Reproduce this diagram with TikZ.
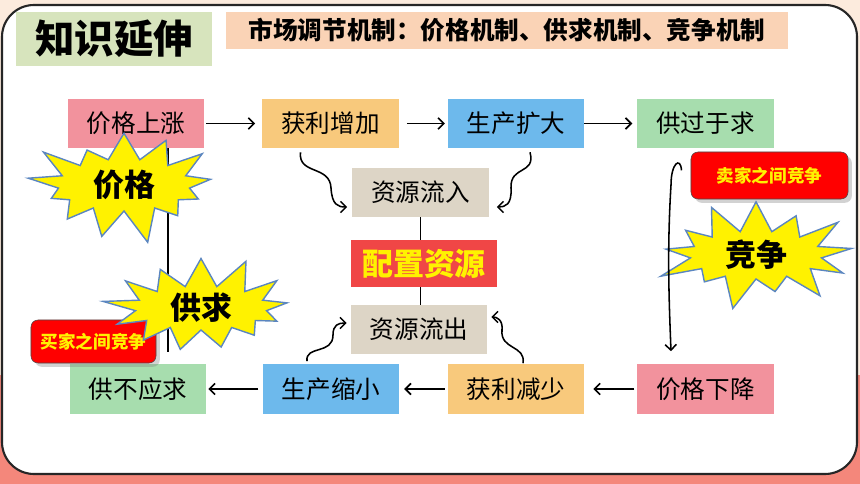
\documentclass[tikz,border=0pt]{standalone}
\usepackage{fontspec}
\setmainfont{Noto Sans CJK SC}
\usetikzlibrary{shapes.symbols,arrows.meta,shadows,calc}

\definecolor{bgtop}{HTML}{FCEBDD}
\definecolor{bgbot}{HTML}{F4877B}
\definecolor{frame}{HTML}{262626}
\definecolor{tgreen}{HTML}{D7E4BD}
\definecolor{tpeach}{HTML}{FAD3B6}
\definecolor{cpink}{HTML}{F2929D}
\definecolor{corange}{HTML}{F8C97C}
\definecolor{cblue}{HTML}{6DB9EC}
\definecolor{cgreen}{HTML}{A7DDAE}
\definecolor{ctan}{HTML}{DDD5C6}
\definecolor{cred}{HTML}{F04646}
\definecolor{sblue}{HTML}{5B86C0}

\tikzset{
  box/.style={minimum width=3.4cm,minimum height=1.225cm,inner sep=0pt,font=\fontsize{17.5}{20}\selectfont},
  arr/.style={line width=1.2pt,-{Straight Barb[length=4pt,width=8pt]}},
  sq/.style={line width=1.1pt,-{Straight Barb[length=4pt,width=8pt]}},
  star/.style={starburst,fill=yellow,draw=sblue,line width=1pt,starburst points=13,
    starburst point height=0.9cm,inner sep=0pt,font=\fontsize{22}{24}\selectfont\bfseries},
  rbox/.style={rounded corners=5pt,fill=red,draw=black!70,drop shadow={opacity=0.35},
    text=yellow,inner sep=0pt,font=\fontsize{12.5}{14}\selectfont\bfseries}
}

\begin{document}
\begin{tikzpicture}[x=0.025cm,y=-0.025cm]
\useasboundingbox (0,0) rectangle (860,484);
\fill[bgtop] (0,0) rectangle (860,375);
\fill[bgbot] (0,375) rectangle (860,484);
\draw[line width=1.5pt,draw=frame,fill=white,rounded corners=0.8cm] (2,5) rectangle (857,474);

% titles
\node[fill=tgreen,minimum width=4.9cm,minimum height=1.35cm,font=\fontsize{28}{30}\selectfont\bfseries] (t) at (114,39) {知识延伸};
\node[fill=tpeach,minimum width=14.05cm,minimum height=0.925cm,font=\fontsize{17.5}{20}\selectfont\bfseries] (s) at (507,30.5) {市场调节机制：价格机制、供求机制、竞争机制};

% boxes
\node[box,fill=cpink] (a) at (136,123.5) {价格上涨};
\node[box,fill=corange] (b) at (330.5,123.5) {获利增加};
\node[box,fill=cblue] (c) at (516,123.5) {生产扩大};
\node[box,fill=cgreen] (d) at (705.5,123.5) {供过于求};
\node[box,fill=cgreen] (e) at (138,389) {供不应求};
\node[box,fill=cblue] (f) at (331,389) {生产缩小};
\node[box,fill=corange] (g) at (516,389) {获利减少};
\node[box,fill=cpink] (h) at (705.5,389) {价格下降};
\node[box,fill=ctan] (i) at (420.5,192.5) {资源流入};
\node[box,fill=ctan] (k) at (419,329.5) {资源流出};
\node[box,fill=cred,minimum width=3.65cm,minimum height=1.175cm,text=yellow,font=\fontsize{22}{24}\selectfont\bfseries] (j) at (424,263.5) {配置资源};

\draw[line width=1pt] (i.south) -- (i.south |- j.north);
\draw[line width=1pt] (i.south |- j.south) -- (i.south |- k.north);

% rows
\draw[arr,shorten <=1.4pt,shorten >=5pt] (a.east) -- (b.west);
\draw[arr,shorten <=5.7pt,shorten >=2pt] (b.east) -- (c.west);
\draw[arr,shorten >=3.5pt] (c.east) -- (d.west);
\draw[arr,shorten <=3pt,shorten >=1.4pt] (f.west) -- (e.east);
\draw[arr,shorten <=2pt,shorten >=3.5pt] (g.west) -- (f.east);
\draw[arr,shorten <=2pt,shorten >=6.4pt] (h.west) -- (g.east);

% squiggles
\draw[sq] ($(b.south)+(-30,4)$) .. controls (298,175) and (330,165) .. (331,188)
  .. controls (332,205) and (338,207) .. ($(i.west)+(-5,14.5)$);
\draw[sq] ($(c.south)+(14,4)$) .. controls (536,175) and (510,165) .. (511,188)
  .. controls (512,205) and (505,207) .. ($(i.east)+(8,14.5)$);
\draw[sq] ($(f.north)+(-24,-3)$) .. controls (305,345) and (333,355) .. (333,335)
  .. controls (333,325) and (338,323) .. ($(k.west)+(-4,-6.5)$);
\draw[sq] ($(g.north)+(7,-1)$) .. controls (526,345) and (500,350) .. (502,330)
  .. controls (503,320) and (497,317) .. ($(k.east)+(4,-12.5)$);

\draw[line width=1pt,shorten >=9pt] ($(a.south)+(32,0)$) -- ($(e.north)+(30,0)$);

% competition
\node[rbox,minimum width=3.125cm,minimum height=1.075cm] (n) at (93.5,341.5) {买家之间竞争};
\node[rbox,minimum width=3.925cm,minimum height=1.175cm] (m) at (769.5,175.5) {卖家之间竞争};

\node[star,minimum width=5.1cm,minimum height=3.1cm,random starburst=21] (p) at (124,185) {价格};
\node[star,minimum width=5.1cm,minimum height=2.9cm,random starburst=57] (r) at (201,308) {供求};
\node[star,minimum width=5.1cm,minimum height=3cm,random starburst=93] (u) at (756,255) {竞争};

\coordinate (q) at ($(d.south)+(-24,22)$);
\draw[sq] (q) .. controls +(-1,-14) and +(0,-22) .. (671,185)
  .. controls (667,250) and (669,300) .. ($(h.north)+(-34.5,-13)$);
\end{tikzpicture}
\end{document}
